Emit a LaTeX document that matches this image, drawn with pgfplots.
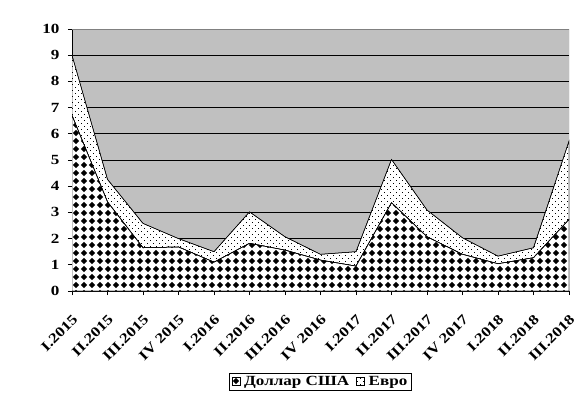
\documentclass[border=0pt]{standalone}
\usepackage{fontspec}
\setmainfont{Liberation Serif Bold}[FakeStretch=1.22]
\usepackage{pgfplots}
\pgfplotsset{compat=1.18}
\usetikzlibrary{patterns}

\definecolor{plotgray}{RGB}{192,192,192}

% diamond grid like the Excel pattern
\pgfdeclarepatternformonly{diamonds}{\pgfqpoint{-1bp}{-1bp}}{\pgfqpoint{9bp}{9bp}}{\pgfqpoint{8bp}{8bp}}{
  \pgfpathmoveto{\pgfqpoint{4bp}{0.8bp}}
  \pgfpathlineto{\pgfqpoint{7.2bp}{4bp}}
  \pgfpathlineto{\pgfqpoint{4bp}{7.2bp}}
  \pgfpathlineto{\pgfqpoint{0.8bp}{4bp}}
  \pgfpathclose
  \pgfusepath{fill}}
% sparse dots
\pgfdeclarepatternformonly{sparsedots}{\pgfqpoint{-1bp}{-1bp}}{\pgfqpoint{7bp}{7bp}}{\pgfqpoint{6bp}{6bp}}{
  \pgfpathrectangle{\pgfqpoint{0bp}{0bp}}{\pgfqpoint{0.9bp}{0.9bp}}
  \pgfpathrectangle{\pgfqpoint{3bp}{3bp}}{\pgfqpoint{0.9bp}{0.9bp}}
  \pgfusepath{fill}}

\newcommand\chartfont{\fontsize{14bp}{16bp}\selectfont}

\begin{document}
\begin{tikzpicture}
\useasboundingbox (-72bp,-118bp) rectangle (513bp,291bp);
\begin{axis}[
    at={(0,0)}, anchor=south west,
    scale only axis, width=497bp, height=262bp,
    xmin=0, xmax=14, ymin=0, ymax=10,
    stack plots=y,
    axis lines=left,
    axis line style={black, line width=0.8bp, -},
    axis background/.style={fill=plotgray},
    ymajorgrids,
    major grid style={black, line width=0.8bp},
    xtick={0,...,14},
    ytick={0,...,10},
    xticklabels={I.2015,II.2015,III.2015,IV 2015,I.2016,II.2016,III.2016,IV 2016,I.2017,II.2017,III.2017,IV 2017,I.2018,II.2018,III.2018},
    tick align=outside,
    major tick length=4bp,
    tick style={black, line width=0.8bp},
    /pgf/number format/assume math mode=true,
    tick label style={font=\chartfont},
    xticklabel style={rotate=45, anchor=east, xshift=-10bp, yshift=-18bp},
    yticklabel style={xshift=-5bp},
    legend style={draw=black, line width=0.8bp, at={(0.5,-0.313)}, anchor=north,
      font=\chartfont, legend columns=2,
      inner xsep=2bp, inner ysep=1bp,
      /tikz/every odd column/.append style={column sep=2bp},
      /tikz/every even column/.append style={column sep=5bp}},
    legend image code/.code={
      \draw[#1, line width=0.5bp] (0bp,-3.5bp) rectangle (8bp,4.5bp);},
  ]
  \addplot[draw=black, line width=0.5bp, fill=white, postaction={pattern=diamonds}]
    coordinates {(0,6.7) (1,3.4) (2,1.65) (3,1.68) (4,1.1) (5,1.82) (6,1.56) (7,1.18)
                 (8,0.95) (9,3.37) (10,2.07) (11,1.4) (12,1.04) (13,1.27) (14,2.73)} \closedcycle;
  \addlegendentry{Доллар США}
  \addplot[draw=black, line width=0.5bp, fill=white, postaction={pattern=sparsedots}]
    coordinates {(0,2.3) (1,0.86) (2,0.93) (3,0.32) (4,0.4) (5,1.2) (6,0.51) (7,0.22)
                 (8,0.55) (9,1.65) (10,1.02) (11,0.63) (12,0.29) (13,0.38) (14,2.99)} \closedcycle;
  \addlegendentry{Евро}
  \draw[gray, line width=0.8bp] (rel axis cs:0,1) -- (rel axis cs:1,1) -- (rel axis cs:1,0);
\end{axis}
\end{tikzpicture}
\end{document}
